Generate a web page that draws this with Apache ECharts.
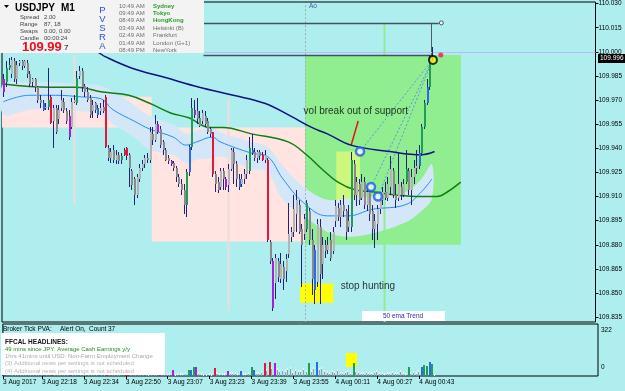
<!DOCTYPE html>
<html><head><meta charset="utf-8">
<script src="https://cdn.jsdelivr.net/npm/echarts@6/dist/echarts.min.js"></script>
<style>html,body{margin:0;padding:0;background:#AFEEEE}#c{width:625px;height:391px}</style>
</head><body><div id="c"></div>
<script>
// ---------------- DATA ----------------
const tickLabels = ['3 Aug 2017','3 Aug 22:18','3 Aug 22:34','3 Aug 22:50','3 Aug 23:07','3 Aug 23:23','3 Aug 23:39','3 Aug 23:55','4 Aug 00:11','4 Aug 00:27','4 Aug 00:43'];
const priceTicks = [110.030,110.015,110.000,109.985,109.970,109.955,109.940,109.925,109.910,109.895,109.880,109.865,109.850,109.835];
const volTicks = [0, 322];

const opens = [
109.975,109.981,109.990,109.986,109.994,109.983,109.993,109.994,109.991,109.993,
109.986,109.981,109.983,109.978,109.970,109.968,109.965,109.966,109.972,109.957,
109.965,109.958,109.965,109.969,109.963,109.960,109.953,109.969,109.968,109.985,
109.988,109.979,109.975,109.971,109.963,109.968,109.965,109.963,109.966,109.972,
109.940,109.934,109.939,109.933,109.936,109.933,109.939,109.940,109.936,109.926,
109.921,109.911,109.921,109.928,109.930,109.934,109.933,109.949,109.945,109.955,
109.952,109.944,109.939,109.934,109.932,109.931,109.928,109.922,109.918,109.914,
109.905,109.925,109.941,109.964,109.963,109.959,109.957,109.960,109.957,109.952,
109.950,109.924,109.919,109.916,109.926,109.921,109.917,109.927,109.938,109.930,
109.921,109.918,109.921,109.924,109.926,109.939,109.938,109.934,109.938,109.936,
109.933,109.933,109.882,109.870,109.856,109.870,109.859,109.866,109.864,109.874,
109.885,109.888,109.899,109.905,109.890,109.887,109.890,109.901,109.883,109.877,
109.857,109.891,109.868,109.880,109.877,109.883,109.876,109.895,109.903,109.897,
109.905,109.901,109.891,109.891,109.930,109.911,109.918,109.909,109.919,109.905,
109.913,109.901,109.890,109.893,109.902,109.908,109.913,109.909,109.916,109.926,
109.911,109.909,109.916,109.911,109.919,109.926,109.914,109.922,109.928,109.929,
109.937,109.953,109.968,109.978,109.997];
const highs = [
109.986,109.994,109.996,109.997,109.996,109.994,109.995,109.995,109.995,109.995,
109.988,109.984,109.984,109.979,109.973,109.970,109.968,109.990,109.973,109.967,
109.967,109.967,109.976,109.971,109.965,109.964,109.971,109.973,109.988,109.991,
109.990,109.980,109.978,109.973,109.970,109.969,109.967,109.968,109.970,109.973,
109.942,109.940,109.942,109.939,109.938,109.937,109.940,109.941,109.937,109.927,
109.922,109.924,109.930,109.933,109.936,109.937,109.953,109.953,109.961,109.957,
109.954,109.945,109.940,109.936,109.933,109.932,109.929,109.924,109.921,109.918,
109.927,109.942,109.971,109.970,109.971,109.963,109.964,109.963,109.959,109.953,
109.950,109.926,109.922,109.928,109.928,109.922,109.930,109.940,109.940,109.932,
109.924,109.924,109.927,109.936,109.947,109.949,109.940,109.939,109.939,109.938,
109.939,109.934,109.883,109.872,109.874,109.872,109.875,109.870,109.874,109.906,
109.891,109.911,109.914,109.908,109.893,109.899,109.908,109.903,109.890,109.880,
109.896,109.896,109.885,109.883,109.885,109.888,109.891,109.908,109.906,109.908,
109.911,109.902,109.905,109.938,109.933,109.922,109.921,109.924,109.922,109.916,
109.914,109.905,109.899,109.905,109.911,109.916,109.919,109.922,109.935,109.928,
109.918,109.937,109.919,109.921,109.939,109.928,109.927,109.933,109.939,109.942,
109.955,109.970,109.983,109.998,110.003];
const lows = [
109.972,109.978,109.989,109.984,109.981,109.980,109.991,109.989,109.990,109.984,
109.978,109.978,109.975,109.968,109.965,109.963,109.964,109.964,109.955,109.940,
109.949,109.955,109.963,109.962,109.955,109.945,109.952,109.968,109.967,109.983,
109.975,109.972,109.969,109.959,109.959,109.962,109.959,109.961,109.962,109.940,
109.932,109.931,109.931,109.930,109.930,109.930,109.935,109.933,109.916,109.914,
109.905,109.909,109.919,109.926,109.928,109.931,109.931,109.942,109.944,109.949,
109.940,109.936,109.932,109.930,109.929,109.926,109.919,109.916,109.911,109.899,
109.897,109.923,109.939,109.959,109.955,109.953,109.955,109.953,109.949,109.947,
109.922,109.913,109.912,109.914,109.914,109.914,109.913,109.926,109.918,109.916,
109.914,109.916,109.918,109.921,109.924,109.936,109.932,109.931,109.933,109.932,
109.931,109.882,109.868,109.839,109.846,109.857,109.856,109.852,109.857,109.872,
109.882,109.885,109.888,109.887,109.854,109.883,109.888,109.880,109.849,109.843,
109.854,109.843,109.859,109.872,109.874,109.870,109.874,109.891,109.895,109.891,
109.897,109.883,109.888,109.888,109.908,109.904,109.905,109.908,109.902,109.901,
109.895,109.883,109.878,109.883,109.899,109.905,109.908,109.907,109.911,109.909,
109.903,109.907,109.908,109.910,109.918,109.911,109.905,109.918,109.924,109.927,
109.935,109.952,109.967,109.976,109.995];
const closes = [
109.983,109.990,109.992,109.995,109.983,109.992,109.994,109.991,109.994,109.986,
109.980,109.983,109.978,109.970,109.968,109.964,109.966,109.970,109.956,109.965,
109.950,109.964,109.970,109.964,109.957,109.947,109.969,109.970,109.984,109.988,
109.978,109.975,109.970,109.961,109.967,109.964,109.961,109.965,109.963,109.941,
109.934,109.938,109.933,109.936,109.932,109.935,109.936,109.935,109.928,109.917,
109.911,109.922,109.928,109.930,109.934,109.933,109.950,109.945,109.955,109.950,
109.942,109.939,109.933,109.932,109.930,109.928,109.922,109.918,109.914,109.905,
109.925,109.941,109.965,109.961,109.958,109.954,109.962,109.955,109.950,109.949,
109.924,109.918,109.914,109.926,109.921,109.916,109.927,109.939,109.930,109.921,
109.916,109.921,109.924,109.933,109.940,109.937,109.934,109.938,109.935,109.933,
109.936,109.883,109.870,109.841,109.872,109.860,109.868,109.859,109.871,109.887,
109.888,109.902,109.908,109.888,109.880,109.896,109.906,109.883,109.859,109.852,
109.893,109.862,109.880,109.876,109.880,109.872,109.888,109.904,109.897,109.905,
109.901,109.888,109.895,109.933,109.911,109.919,109.908,109.919,109.905,109.913,
109.899,109.890,109.895,109.902,109.908,109.913,109.909,109.918,109.927,109.911,
109.908,109.918,109.911,109.918,109.927,109.914,109.922,109.928,109.929,109.937,
109.953,109.968,109.978,109.997,109.996];
// PVSRA candle class: n normal, g green, b blue, r red, p purple
const kinds = ('pggnnnnnnn'+'nnnnnbngrn'+'nnnnnpnngn'+'nnnnnnbnnr'+'nnnnngrrnn'+
               'nnnnnnnnnp'+'nnnnpnnnnn'+'gbgpnnnnnn'+'rnnnnpnnnn'+'bnnngbnnnr'+
               'nrnpnnnnnn'+'nnnnnngnnb'+'nnnnnnnnnn'+'nnngnnnnnn'+'nnnnnnnnnn'+
               'nnnngnnnnb'+'ggbgn').split('');
const volumes = [
70,80,60,45,40,35,20,25,20,30, 35,25,30,40,30,55,20,65,85,50,
45,35,30,25,30,60,45,20,70,35, 40,25,30,35,30,20,50,25,30,95,
40,30,25,20,20,45,40,45,40,35, 45,35,30,20,20,15,40,25,35,45,
30,20,20,20,42,15,20,18,22,28, 45,45,65,60,25,18,15,14,20,15,
58,30,20,22,18,35,25,30,28,20, 35,20,22,30,62,45,30,25,35,90,
50,98,60,92,55,45,50,40,55,60, 35,50,45,40,55,40,90,45,60,95,
55,60,45,35,30,40,35,50,25,30, 35,40,30,90,40,35,25,30,35,25,
30,35,40,30,25,20,25,30,35,25, 30,40,25,20,62,30,35,25,40,62,
75,70,95,85,15];

// envelope band (bar index, upper, centre EMA, lower)
const bandIdx   = [0,10,20,30,37,42,50,56,65,70,74,80,83,95,101,107,115,124,132,141,154,160,164];
const bandUpper = [109.980,109.981,109.981,109.980,109.979,109.975,109.967,109.960,109.955,109.949,109.951,109.953,109.950,109.944,109.941,109.929,109.916,109.908,109.909,109.910,109.913,109.921,109.930];
const bandMid   = [109.969,109.973,109.973,109.972,109.971,109.964,109.957,109.952,109.947,109.942,109.944,109.947,109.944,109.937,109.935,109.921,109.906,109.898,109.898,109.902,109.905,109.913,109.921];
const bandLower = [109.961,109.964,109.964,109.963,109.961,109.955,109.947,109.939,109.936,109.931,109.933,109.934,109.935,109.927,109.925,109.908,109.898,109.888,109.885,109.887,109.894,109.901,109.909];
// green moving average
const greenIdx = [0,18,28,38,48,56,64,71,79,84,95,109,116,122,128,135,141,150,160,166,170,175];
const greenMA  = [109.980,109.978,109.978,109.975,109.973,109.968,109.962,109.959,109.953,109.953,109.949,109.944,109.936,109.927,109.919,109.914,109.913,109.911,109.910,109.910,109.913,109.919];
// navy moving average
const navyIdx = [30,36,39,49,62,75,88,100,110,118,124,133,148,160,165];
const navyMA  = [110.004,110.000,109.997,109.990,109.984,109.978,109.973,109.968,109.960,109.953,109.949,109.942,109.938,109.936,109.938];

// zones [startIdx, endIdx, topPrice, bottomPrice]
const zones = [[-0.5,56.8,109.972,109.953],[56.8,115.5,109.953,109.882],[115.5,175.1,109.998,109.880],[127.4,136.5,109.938,109.902],[113.6,126.2,109.856,109.844]];
const zoneColors = ['#FFE4E1','#FFE4E1','#90EE90','#CDF77D','#FFFF00'];
const volZone = [130.4,134.6,63,161];
// drawn objects [x1,p1,x2,p2]
const segments = [
 [27,109.998,27,109.905],[85.8,109.971,85.8,109.839],
 [115.5,110.029,115.5,109.832],[145.6,110.018,145.6,109.832],
 [163.6,110.018,163.6,109.997],[76.6,110.018,166.6,110.018],[76.6,109.998,163.6,109.998],
 [-0.5,110.000,226.6,110.000],
 [136.5,109.938,164.2,109.995],[140.7,109.916,164.2,109.995],[143.4,109.910,164.2,109.995],
 [133.1,109.942,135.8,109.957]];
const segStyles = [
 {stroke:'#E9DEDC',lineWidth:2},{stroke:'#E9DEDC',lineWidth:2},
 {stroke:'#9FB0B0',lineWidth:1,lineDash:[2,2]},{stroke:'#90EE90',lineWidth:2},
 {stroke:'#4A5E6E',lineWidth:1},{stroke:'#3E5464',lineWidth:1.5},{stroke:'#3E5464',lineWidth:1.5},
 {stroke:'#C2B6F6',lineWidth:1},
 {stroke:'#5F8FE8',lineWidth:1,lineDash:[2,2]},{stroke:'#5F8FE8',lineWidth:1,lineDash:[2,2]},{stroke:'#5F8FE8',lineWidth:1,lineDash:[2,2]},
 {stroke:'#E51010',lineWidth:1.5}];
const blueRings = [[136.5,109.938],[140.7,109.916],[143.4,109.910]];
const yellowDot = [[164.4,109.995]];
const redDot = [[167.4,109.998]];
const endCircle = [[167.6,110.018]];
const annotations = [[114.7,109.963,'vol break out of support'],[128.9,109.854,'stop hunting']];

// ---------------- CHART ----------------
const FONT = 'Liberation Sans';
const kindColors = {g:'#1E9E58', b:'#2F6BE0', r:'#E0183C', p:'#A322D8'};
const chart = echarts.init(document.getElementById('c'), null, {renderer:'canvas', width:625, height:391});

const candleData = opens.map((o,i)=>[i,o,highs[i],lows[i],closes[i]]);
const volData = volumes.map((v,i)=>[i,v]);
const tickVals = tickLabels.map((t,k)=>Math.max(-0.45, k*16-1.6));

function renderCandle(params, api){
  const i=api.value(0),o=api.value(1),h=api.value(2),l=api.value(3),c=api.value(4);
  const k=kinds[params.dataIndex];
  const po=api.coord([i,o]),pc=api.coord([i,c]),ph=api.coord([i,h]),pl=api.coord([i,l]);
  const xc=Math.round(po[0]);
  const top=Math.round(Math.min(po[1],pc[1])),bot=Math.round(Math.max(po[1],pc[1]));
  const fill = k==='n' ? (c>=o?'#B4B4B4':'#8A8A8A') : kindColors[k];
  return {type:'group',children:[
    {type:'line',shape:{x1:xc+0.5,y1:Math.round(ph[1]),x2:xc+0.5,y2:Math.round(pl[1])},style:{stroke:'#22227A',lineWidth:1}},
    {type:'rect',shape:{x:xc,y:top,width:2,height:Math.max(1,bot-top)},style:{fill:fill}}
  ]};
}
function renderVol(params, api){
  const i=api.value(0),v=api.value(1),k=kinds[params.dataIndex];
  const p0=api.coord([i,0]),p1=api.coord([i,v]);
  const xc=Math.round(p0[0]),y0=Math.round(p0[1]),y1=Math.round(p1[1]);
  if(k==='n') return {type:'group',children:[
    {type:'rect',shape:{x:xc,y:y1,width:1,height:y0-y1},style:{fill:'#8C9DB0'}},
    {type:'rect',shape:{x:xc,y:y1,width:1,height:2},style:{fill:'#F2F4F6'}}]};
  return {type:'rect',shape:{x:xc,y:y1,width:2,height:y0-y1},style:{fill:kindColors[k]}};
}
function renderZone(params, api){
  const z=zones[params.dataIndex];
  const a=api.coord([z[0],z[2]]),b=api.coord([z[1],z[3]]);
  return {type:'rect',shape:{x:a[0],y:a[1],width:b[0]-a[0],height:b[1]-a[1]},style:{fill:zoneColors[params.dataIndex]}};
}
function renderBand(params, api){
  const pts=[];
  for(let j=0;j<bandIdx.length;j++) pts.push(api.coord([bandIdx[j],bandUpper[j]]));
  for(let j=bandIdx.length-1;j>=0;j--) pts.push(api.coord([bandIdx[j],bandLower[j]]));
  return {type:'polygon',shape:{points:pts,smooth:0.35},style:{fill:'#D3E7F8'}};
}
function renderSeg(params, api){
  const s=segments[params.dataIndex];
  const a=api.coord([s[0],s[1]]),b=api.coord([s[2],s[3]]);
  let x1=a[0],x2=b[0],y1=a[1],y2=b[1];
  if(Math.abs(x1-x2)<0.01){x1=x2=Math.round(x1)+0.5;}
  if(Math.abs(y1-y2)<0.01){y1=y2=Math.round(y1)+0.5;}
  return {type:'line',shape:{x1,y1,x2,y2},style:Object.assign({},segStyles[params.dataIndex])};
}
function renderVolZone(params, api){
  const a=api.coord([volZone[0],volZone[3]]),b=api.coord([volZone[1],volZone[2]]);
  return {type:'rect',shape:{x:a[0],y:a[1],width:b[0]-a[0],height:b[1]-a[1]},style:{fill:'#FFFF00'}};
}

function T(x,y,text,size,color,weight,align){
  return {type:'text',x:x,y:y,z:101,style:{text:text,fill:color||'#000',font:(weight||'normal')+' '+size+'px "'+FONT+'"',align:align||'left',verticalAlign:'middle'}};
}
const greenC='#2C9E2C', grayC='#6E6E6E';
const graphics = [
  {type:'rect',z:100,shape:{x:0,y:0,width:204,height:53},style:{fill:'#F3F3F3'}},
  {type:'polygon',z:101,shape:{points:[[4,5],[9,5],[6.5,8]]},style:{fill:'#000'}},
  T(15,8.5,'USDJPY',10,'#000','bold'), T(61,8.5,'M1',10,'#000','bold'),
  T(20,17,'Spread',6,'#444'), T(20,24,'Range',6,'#444'), T(20,31,'Swaps',6,'#444'), T(20,38,'Candle',6,'#444'),
  T(44,17,'2.00',6,'#444'), T(44,24,'87, 18',6,'#444'), T(44,31,'0.00, 0.00',6,'#444'), T(44,38,'00:00:24',6,'#444'),
  T(22,47,'109.99',13,'#E8101E','bold'), T(64,48,'7',8,'#000'),
  T(102.5,10,'P',9.5,'#3050D0','normal','center'), T(102.5,19,'V',9.5,'#3050D0','normal','center'),
  T(102.5,28,'S',9.5,'#3050D0','normal','center'), T(102.5,37,'R',9.5,'#3050D0','normal','center'),
  T(102.5,46,'A',9.5,'#3050D0','normal','center'),
  T(119,6,'10:49 AM',6,grayC), T(119,13.4,'09:49 AM',6,grayC), T(119,20.8,'08:49 AM',6,grayC),
  T(119,28.2,'03:49 AM',6,grayC), T(119,35.6,'02:49 AM',6,grayC), T(119,43,'01:49 AM',6,grayC), T(119,50.4,'08:49 PM',6,grayC),
  T(153,6,'Sydney',6,greenC,'bold'), T(153,13.4,'Tokyo',6,greenC,'bold'), T(153,20.8,'HongKong',6,greenC,'bold'),
  T(153,28.2,'Helsinki (B)',6,grayC), T(153,35.6,'Frankfurt',6,grayC), T(153,43,'London (G+1)',6,grayC), T(153,50.4,'NewYork',6,grayC),
  T(309,6,'Ao',6.5,'#4A5AA0'),
  {type:'rect',z:100,shape:{x:362,y:311,width:83,height:10},style:{fill:'#FFFFFF'}},
  T(403,316,'50 ema Trend',6.5,'#2828A0','normal','center'),
  {type:'rect',z:100,shape:{x:598,y:54,width:27,height:9},style:{fill:'#000'}},
  T(600,58.5,'109.996',6.5,'#FFF'),
  T(3,329,'Broker Tick PVA:',6.5,'#000'), T(60,329,'Alert On,',6.5,'#000'), T(89,329,'Count',6.5,'#000'), T(108,329,'37',6.5,'#000'),
  {type:'rect',z:100,shape:{x:1,y:333,width:164,height:42},style:{fill:'#FFFFFF'}},
  T(5,342,'FFCAL HEADLINES:',6.5,'#111','bold'),
  T(5,349.5,'49 mins since JPY: Average Cash Earnings y/y',6,'#1F8F1F'),
  T(5,356.5,'1hrs 41mins until USD: Non-Farm Employment Change',6,'#A8A8A8'),
  T(5,363.5,'(3) Additional news per settings is not scheduled',6,'#B4B4B4'),
  T(5,371,'(4) Additional news per settings is not scheduled',6,'#B4B4B4')
];

const option = {
  animation:false,
  backgroundColor:'#AFEEEE',
  textStyle:{fontFamily:FONT},
  grid:[
    {left:2,right:27,top:2,height:320,show:true,borderColor:'#000',borderWidth:1,backgroundColor:'#AFEEEE'},
    {left:2,right:27,top:324,height:52,show:true,borderColor:'#000',borderWidth:1,backgroundColor:'#AFEEEE'}
  ],
  xAxis:[
    {type:'value',gridIndex:0,min:-0.5,max:226.6,show:false,axisLine:{onZero:false}},
    {type:'value',gridIndex:1,min:-0.5,max:226.6,splitLine:{show:false},axisLine:{show:false,onZero:false},
     axisTick:{show:true,customValues:tickVals,length:3,lineStyle:{color:'#000'}},
     axisLabel:{show:true,customValues:tickVals,align:'left',margin:3,fontSize:6.5,fontFamily:FONT,color:'#000',
       formatter:(v)=>tickLabels[Math.round((v+1.6)/16)]}}
  ],
  yAxis:[
    {type:'value',gridIndex:0,position:'right',min:109.832,max:110.031,splitLine:{show:false},axisLine:{show:false,onZero:false},
     axisTick:{show:true,customValues:priceTicks,length:3,lineStyle:{color:'#000'}},
     axisLabel:{show:true,customValues:priceTicks,margin:3,fontSize:6.5,fontFamily:FONT,color:'#000',formatter:(v)=>v.toFixed(3)}},
    {type:'value',gridIndex:1,position:'right',min:0,max:364,splitLine:{show:false},axisLine:{show:false,onZero:false},
     axisTick:{show:false},
     axisLabel:{show:true,customValues:volTicks,margin:3,fontSize:6.5,fontFamily:FONT,color:'#000',
       formatter:(v)=> v===0 ? '{b|0}' : '{t|322}',
       rich:{b:{padding:[0,0,17,0],fontSize:6.5},t:{fontSize:6.5}}}}
  ],
  graphic:graphics,
  series:[
    {type:'custom',name:'zones',xAxisIndex:0,yAxisIndex:0,z:1,renderItem:renderZone,data:zones.map(z=>[z[0],z[2]]),silent:true},
    {type:'custom',name:'band',xAxisIndex:0,yAxisIndex:0,z:2,renderItem:renderBand,data:[[0,bandUpper[0]]],silent:true},
    {type:'line',name:'ema',xAxisIndex:0,yAxisIndex:0,z:3,data:bandIdx.map((x,j)=>[x,bandMid[j]]),smooth:0.4,symbol:'none',lineStyle:{color:'#1E90FF',width:1}},
    {type:'custom',name:'drawings',xAxisIndex:0,yAxisIndex:0,z:3,renderItem:renderSeg,data:segments.map(s=>[s[0],s[1]]),silent:true},
    {type:'line',name:'greenMA',xAxisIndex:0,yAxisIndex:0,z:4,data:greenIdx.map((x,j)=>[x,greenMA[j]]),smooth:0.4,symbol:'none',lineStyle:{color:'#0F7F0F',width:1.5}},
    {type:'line',name:'navyMA',xAxisIndex:0,yAxisIndex:0,z:4,data:navyIdx.map((x,j)=>[x,navyMA[j]]),smooth:0.4,symbol:'none',lineStyle:{color:'#10107E',width:1.5}},
    {type:'custom',name:'candles',xAxisIndex:0,yAxisIndex:0,z:5,renderItem:renderCandle,data:candleData,silent:true},
    {type:'scatter',xAxisIndex:0,yAxisIndex:0,z:7,data:blueRings,symbol:'circle',symbolSize:8,itemStyle:{color:'#F4F8FF',borderColor:'#1D5FE6',borderWidth:2.5}},
    {type:'scatter',xAxisIndex:0,yAxisIndex:0,z:7,data:yellowDot,symbol:'circle',symbolSize:8,itemStyle:{color:'#FFEE00',borderColor:'#000',borderWidth:2}},
    {type:'scatter',xAxisIndex:0,yAxisIndex:0,z:7,data:redDot,symbol:'circle',symbolSize:5,itemStyle:{color:'#F01848'}},
    {type:'scatter',xAxisIndex:0,yAxisIndex:0,z:7,data:endCircle,symbol:'circle',symbolSize:4,itemStyle:{color:'#FFFFFF',borderColor:'#333',borderWidth:1}},
    {type:'scatter',xAxisIndex:0,yAxisIndex:0,z:8,data:annotations.map(a=>[a[0],a[1]]),symbol:'circle',symbolSize:1,itemStyle:{color:'rgba(0,0,0,0)'},
     label:{show:true,position:'right',distance:0,color:'#000',fontSize:10,fontFamily:FONT,formatter:(p)=>annotations[p.dataIndex][2]}},
    {type:'custom',name:'volZone',xAxisIndex:1,yAxisIndex:1,z:1,renderItem:renderVolZone,data:[[volZone[0],volZone[2]]],silent:true},
    {type:'custom',name:'volume',xAxisIndex:1,yAxisIndex:1,z:2,renderItem:renderVol,data:volData,silent:true}
  ]
};
chart.setOption(option);
</script>
</body></html>
